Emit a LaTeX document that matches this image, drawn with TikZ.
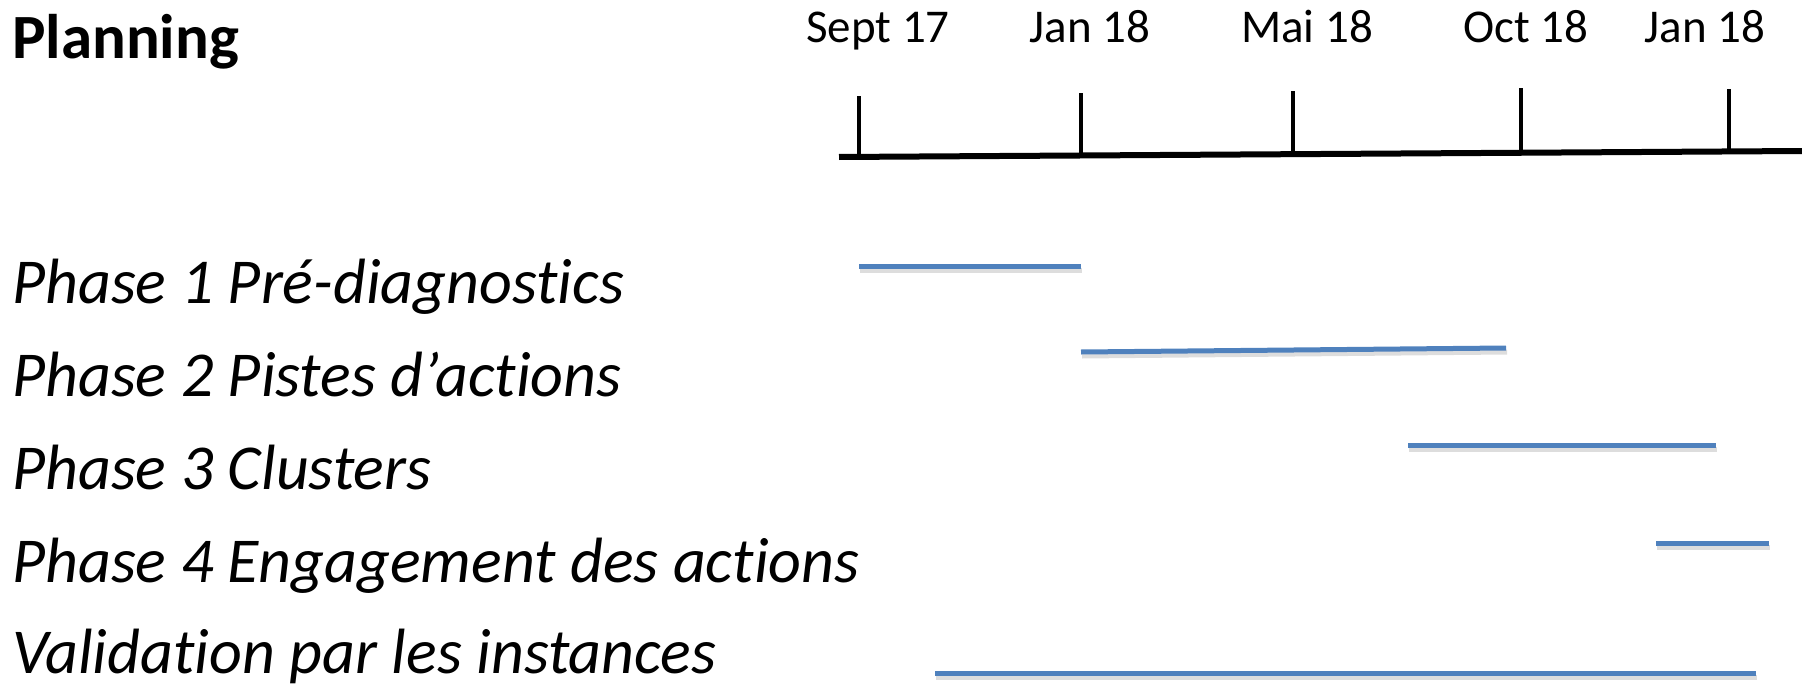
\documentclass[tikz,border=0pt]{standalone}
\usepackage{fontspec}
\setmainfont{Carlito}[Ligatures={NoCommon,NoRequired,NoContextual}]
\definecolor{barblue}{HTML}{4F81BD}
\begin{document}
\begin{tikzpicture}[x=1pt,y=-1pt,
  title/.style={anchor=base west,inner sep=0pt,font=\fontsize{63}{63}\selectfont\bfseries},
  phase/.style={anchor=base west,inner sep=0pt,font=\fontsize{64}{64}\selectfont\itshape},
  datelbl/.style={anchor=base,inner sep=0pt,font=\fontsize{47}{47}\selectfont},
  axisline/.style={line width=6pt,black},
  tickline/.style={line width=4pt,black},
  bar/.style={line width=5pt,barblue},
  barshadow/.style={line width=5pt,black!22,opacity=0.6}]
\useasboundingbox (0,0) rectangle (1802,685);
\node[title] (plan) at (12,59) {Planning};
\node[phase] (p1) at (12,303) {Phase 1 Pré-diagnostics};
\node[phase] (p2) at (12,396) {Phase 2 Pistes d’actions};
\node[phase] (p3) at (12,489) {Phase 3 Clusters};
\node[phase] (p4) at (12,582) {Phase 4 Engagement des actions};
\node[phase] (p5) at (12,673) {Validation par les instances};
% dates
\node[datelbl] (d1) at (878,43) {Sept 17};
\node[datelbl] (d2) at (1090,43) {Jan 18};
\node[datelbl] (d3) at (1307,43) {Mai 18};
\node[datelbl] (d4) at (1526,43) {Oct 18};
\node[datelbl] (d5) at (1705,43) {Jan 18};
% axis
\coordinate (a0) at (839,157);
\coordinate (a1) at (1802,151);
\draw[axisline] (a0) -- (a1);
\coordinate (t1a) at (859,96);  \coordinate (t1b) at (859,156);
\coordinate (t2a) at (1081,93); \coordinate (t2b) at (1081,154);
\coordinate (t3a) at (1293,91); \coordinate (t3b) at (1293,153);
\coordinate (t4a) at (1521,88); \coordinate (t4b) at (1521,150);
\coordinate (t5a) at (1729,89); \coordinate (t5b) at (1729,150);
\foreach \t in {1,...,5} \draw[tickline] (t\t a) -- (t\t b);
% bars
\coordinate (b1a) at (859,266);  \coordinate (b1b) at (1081,266);
\coordinate (b2a) at (1081,352); \coordinate (b2b) at (1506,348);
\coordinate (b3a) at (1408,445); \coordinate (b3b) at (1716,445);
\coordinate (b4a) at (1656,543); \coordinate (b4b) at (1769,543);
\coordinate (b5a) at (935,673);  \coordinate (b5b) at (1756,673);
\foreach \b in {1,...,5} {
  \draw[barshadow] ([shift={(1,4)}]b\b a) -- ([shift={(1,4)}]b\b b);
  \draw[bar] (b\b a) -- (b\b b);
}
\end{tikzpicture}
\end{document}
